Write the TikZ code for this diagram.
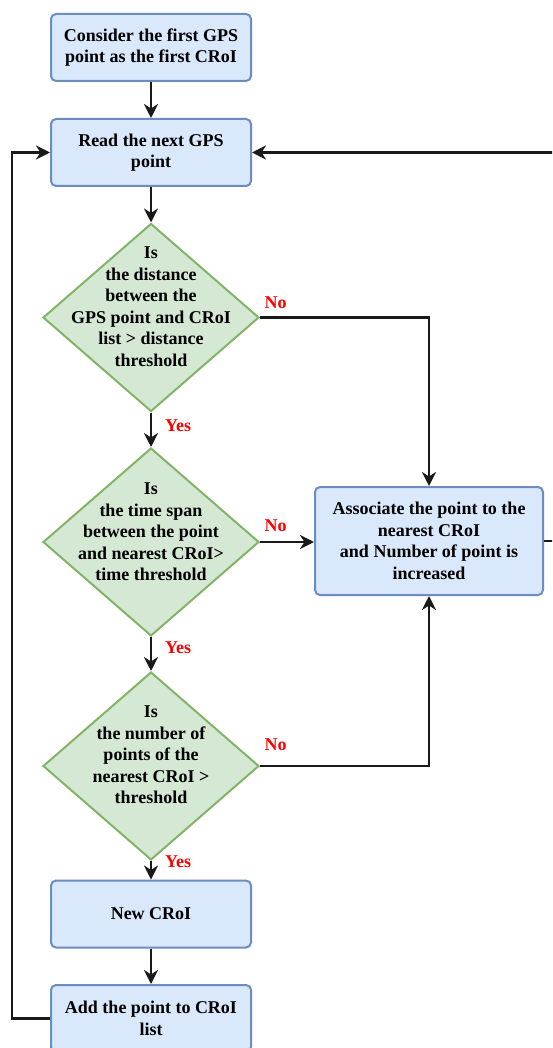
\documentclass[tikz,border=0pt]{standalone}
\usepackage{fontspec}
\setmainfont{Liberation Serif}
\usetikzlibrary{shapes.geometric,arrows.meta}
\definecolor{bfill}{HTML}{DAE8FC}
\definecolor{bline}{HTML}{6C8EBF}
\definecolor{gfill}{HTML}{D5E8D4}
\definecolor{gline}{HTML}{82B366}
\definecolor{lab}{HTML}{FF0000}
\tikzset{
  procbox/.style={draw=bline, fill=bfill, line width=2pt, rounded corners=5pt,
    minimum width=200pt, minimum height=67pt, inner sep=0pt, align=center,
    font=\fontsize{18}{21.5}\selectfont\bfseries},
  decbox/.style={draw=gline, fill=gfill, line width=2pt, diamond, inner sep=0pt,
    minimum width=216pt, minimum height=188pt},
  dectext/.style={align=center, inner sep=0pt, font=\fontsize{18}{21.5}\selectfont\bfseries},
  arr/.style={draw=black!90, line width=2.4pt, -{Stealth[length=14pt,width=14pt,inset=4.5pt]}},
  yn/.style={text=lab, inner sep=0pt, font=\fontsize{18}{20}\selectfont\bfseries}
}
\begin{document}
\begin{tikzpicture}[x=1pt,y=-1pt]
\clip (0,0) rectangle (552,1048);
\fill[white] (0,0) rectangle (552,1048);
\node[procbox] (first) at (151,47.5) {Consider the first GPS\\point as the first CRoI};
\node[procbox] (read) at (151,152.5) {Read the next GPS\\point};
\node[decbox] (d1) at (151,317.5) {};
\node[dectext] (t1) at (151,306.5) {Is\\the distance\\between the\\GPS point and CRoI\\list > distance\\threshold};
\node[decbox] (d2) at (151,542) {};
\node[dectext] (t2) at (151,532) {Is\\the time span\\between the point\\and nearest CRoI>\\time threshold};
\node[decbox] (d3) at (151,766) {};
\node[dectext] (t3) at (151,755) {Is\\the number of\\points of the\\nearest CRoI >\\threshold};
\node[procbox, minimum width=228pt, minimum height=108pt] (assoc) at (429,541) {Associate the point to the\\nearest CRoI\\and Number of point is\\increased};
\node[procbox] (new) at (151,914) {New CRoI};
\node[procbox] (add) at (151,1018.5) {Add the point to CRoI\\list};

\draw[arr] (first) -- (read);
\draw[arr] (read) -- (d1);
\draw[arr] (d1) -- (d2);
\draw[arr] (d2) -- (d3);
\draw[arr] (d3) -- (new);
\draw[arr] (new) -- (add);
\draw[arr] (d1.east) -| (assoc.north);
\draw[arr] (d2.east) -- (d2.east -| assoc.west);
\draw[arr] (d3.east) -| (assoc.south);
\draw[arr] (add.west) -- ++(-38,0) |- (read.west);
\draw[arr] (assoc.east) -- ++(22,0) |- (read.east);

\node[yn] (no1) at (275.5,303) {No};
\node[yn] (yes1) at (178,426) {Yes};
\node[yn] (no2) at (275.5,526) {No};
\node[yn] (yes2) at (178,648) {Yes};
\node[yn] (no3) at (275.5,745) {No};
\node[yn] (yes3) at (178,862) {Yes};
\end{tikzpicture}
\end{document}
